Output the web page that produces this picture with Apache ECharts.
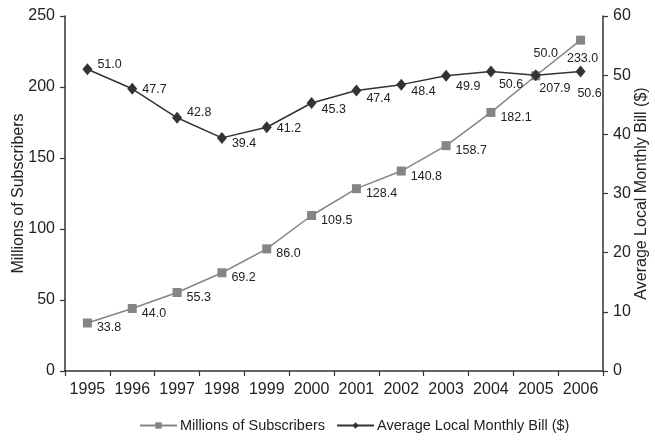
<!DOCTYPE html>
<html>
<head>
<meta charset="utf-8">
<script src="https://cdn.jsdelivr.net/npm/echarts@6/dist/echarts.min.js"></script>
<style>
  html, body { margin: 0; padding: 0; background: #fff; }
  #chart { width: 655px; height: 440px; }
</style>
</head>
<body>
<div id="chart"></div>
<script>
// Years on the category axis
const years = ['1995', '1996', '1997', '1998', '1999', '2000', '2001', '2002', '2003', '2004', '2005', '2006'];
// Wireless subscribers, millions
const subscribers = [33.8, 44.0, 55.3, 69.2, 86.0, 109.5, 128.4, 140.8, 158.7, 182.1, 207.9, 233.0];
// Average local monthly bill, dollars
const monthlyBill = [51.0, 47.7, 42.8, 39.4, 41.2, 45.3, 47.4, 48.4, 49.9, 50.6, 50.0, 50.6];
// Tick values for both value axes
const leftTicks = [0, 50, 100, 150, 200, 250];
const rightTicks = [0, 10, 20, 30, 40, 50, 60];

const FONT = '"Liberation Sans", Arial, sans-serif';
const AXIS_COLOR = '#333333';
const TEXT_COLOR = '#222222';

// Label placement per point (kept apart from the values)
const subLabelPlace = years.map(function (y, i) {
  if (i === 11) return { position: 'bottom', offset: [2, 2] };
  if (i === 10) return { position: 'right', offset: [-6, 13] };
  return { position: 'right', offset: [0, 5] };
});
const billOffsets = [-5, 1, -5, 6, 1, 7, 8, 7, 11, 13, 0, 0];
const billLabelPlace = years.map(function (y, i) {
  if (i === 10) return { position: 'top', offset: [10, -4] };
  if (i === 11) return { position: 'bottom', offset: [9, 4] };
  if (i === 9) return { position: 'right', offset: [-2, billOffsets[i]] };
  return { position: 'right', offset: [0, billOffsets[i]] };
});

const labelStyle = {
  show: true, fontFamily: FONT, fontSize: 12.5, color: TEXT_COLOR,
  formatter: function (p) { return p.value.toFixed(1); }
};

function withLabels(values, places) {
  return values.map(function (v, i) {
    return { value: v, label: Object.assign({}, labelStyle, places[i]) };
  });
}

function valueAxis(ticks, side, title, gap) {
  return {
    type: 'value',
    position: side,
    min: ticks[0],
    max: ticks[ticks.length - 1],
    interval: ticks[1] - ticks[0],
    name: title,
    nameLocation: 'middle',
    nameRotate: 90,
    nameGap: gap,
    nameMoveOverlap: false,
    nameTextStyle: { fontFamily: FONT, fontSize: 16, color: TEXT_COLOR },
    splitLine: { show: false },
    axisLine: { show: true, lineStyle: { color: AXIS_COLOR, width: 1.5 } },
    axisTick: { show: true, length: 5, lineStyle: { color: AXIS_COLOR, width: 1.2 } },
    axisLabel: { fontFamily: FONT, fontSize: 16, color: TEXT_COLOR, margin: 10 }
  };
}

const chart = echarts.init(document.getElementById('chart'), null, { renderer: 'canvas' });

chart.setOption({
  animation: false,
  backgroundColor: '#ffffff',
  textStyle: { fontFamily: FONT },
  grid: { left: 65, right: 52, top: 16, bottom: 69, containLabel: false, outerBoundsMode: 'none' },
  legend: {
    bottom: 2,
    left: 134,
    itemWidth: 37,
    itemHeight: 8,
    itemGap: 11,
    textStyle: { fontFamily: FONT, fontSize: 14.5, color: TEXT_COLOR, padding: [0, 0, 0, -2] },
    data: ['Millions of Subscribers', 'Average Local Monthly Bill ($)']
  },
  xAxis: {
    type: 'category',
    data: years,
    boundaryGap: true,
    axisLine: { lineStyle: { color: AXIS_COLOR, width: 1.5 } },
    axisTick: { show: true, length: 5, lineStyle: { color: AXIS_COLOR, width: 1.2 } },
    axisLabel: { interval: 0, fontFamily: FONT, fontSize: 16, color: TEXT_COLOR, margin: 11 }
  },
  yAxis: [
    valueAxis(leftTicks, 'left', 'Millions of Subscribers', 38),
    valueAxis(rightTicks, 'right', 'Average Local Monthly Bill ($)', 31)
  ],
  series: [
    {
      name: 'Millions of Subscribers',
      type: 'line',
      yAxisIndex: 0,
      data: withLabels(subscribers, subLabelPlace),
      symbol: 'rect',
      symbolSize: 9,
      itemStyle: { color: '#858585' },
      lineStyle: { color: '#858585', width: 1.5 },
      z: 2
    },
    {
      name: 'Average Local Monthly Bill ($)',
      type: 'line',
      yAxisIndex: 1,
      data: withLabels(monthlyBill, billLabelPlace),
      symbol: 'diamond',
      symbolSize: [10, 12],
      itemStyle: { color: '#333333' },
      lineStyle: { color: '#333333', width: 1.5 },
      z: 3
    }
  ]
});
</script>
</body>
</html>
